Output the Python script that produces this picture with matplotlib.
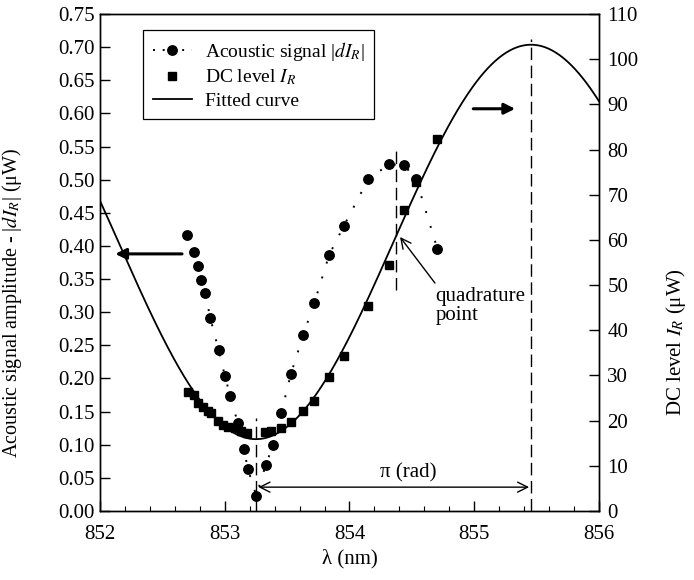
import numpy as np
import matplotlib
matplotlib.use("Agg")
import matplotlib.pyplot as plt
from matplotlib.lines import Line2D

plt.rcParams['font.family'] = ['Liberation Serif', 'DejaVu Serif']
plt.rcParams['mathtext.fontset'] = 'stix'
plt.rcParams['font.size'] = 15

# ---- data: acoustic signal |dI_R| (left axis, uW) ----
ac_wl = [852.697, 852.756, 852.783, 852.807, 852.844, 852.884, 852.951, 853.002,
         853.045, 853.104, 853.152, 853.186, 853.253, 853.328, 853.387, 853.453,
         853.529, 853.630, 853.718, 853.838, 853.954, 854.151, 854.317, 854.437,
         854.533, 854.704]
ac_val = [0.417, 0.391, 0.369, 0.348, 0.329, 0.291, 0.243, 0.203,
          0.173, 0.133, 0.094, 0.063, 0.023, 0.069, 0.099, 0.148,
          0.206, 0.266, 0.314, 0.387, 0.430, 0.501, 0.523, 0.522,
          0.501, 0.396]

# ---- data: DC level I_R (right axis, uW) ----
dc_wl = [852.705, 852.754, 852.786, 852.826, 852.866, 852.890, 852.946, 852.986,
         853.026, 853.082, 853.130, 853.178, 853.323, 853.371, 853.451, 853.531,
         853.627, 853.715, 853.836, 853.956, 854.148, 854.317, 854.437, 854.533,
         854.701]
dc_val = [26.3, 25.7, 23.9, 23.0, 22.1, 21.7, 19.9, 19.0,
          18.6, 18.4, 17.7, 17.3, 17.5, 17.7, 18.4, 19.7,
          22.1, 24.3, 29.7, 34.3, 45.4, 54.4, 66.6, 72.8,
          82.3]

# ---- fitted cosine curve parameters (right axis) ----
fit_min_wl = 853.25
fit_half_period = 2.205
fit_min = 15.9
fit_max = 103.2

x_ticks = [852, 853, 854, 855, 856]
left_ticks = [round(0.05 * i, 2) for i in range(16)]
right_ticks = list(range(0, 111, 10))

fig = plt.figure(figsize=(6.94, 5.80), dpi=100)
ax = fig.add_axes([100/694, 1-511/580, 499/694, 497/580])
ax2 = ax.twinx()

# fitted curve
xf = np.linspace(852, 856, 400)
mid = (fit_max + fit_min) / 2
amp = (fit_max - fit_min) / 2
yf = mid - amp * np.cos(np.pi * (xf - fit_min_wl) / fit_half_period)
ax2.plot(xf, yf, color='k', lw=1.3, zorder=2)

# DC squares
ax2.plot(dc_wl, dc_val, ls='none', marker='s', ms=5.6, color='k', zorder=3)

# acoustic circles with dotted line
ax.plot(ac_wl, ac_val, ls=(0, (1, 7)), lw=1.4, color='k', marker='o', ms=6.8, zorder=3)

ax.set_xlim(852, 856)
ax.set_ylim(0, 0.75)
ax2.set_ylim(0, 110)
ax.set_xticks(x_ticks)
ax.set_xticks(np.arange(852, 856.01, 0.2), minor=True)
ax.set_yticks(left_ticks)
ax.set_yticklabels([f"{v:.2f}" for v in left_ticks])
ax2.set_yticks(right_ticks)

ax.tick_params(axis='x', which='major', direction='in', length=7, width=1, pad=10)
ax.tick_params(axis='x', which='minor', direction='in', length=3.5, width=0.8)
ax.tick_params(axis='y', which='major', direction='in', length=7, width=1, pad=4)
ax2.tick_params(axis='y', which='major', direction='in', length=7, width=1, pad=6)
for a in (ax, ax2):
    for s in a.spines.values():
        s.set_linewidth(1.0)

ax.set_xlabel(r"λ (nm)", labelpad=4)
ax.set_ylabel(r"Acoustic signal amplitude - |$dI_R$| (μW)", fontsize=14.5)
ax.yaxis.set_label_coords(-0.153, 0.42)
ax2.set_ylabel(r"DC level $I_R$ (μW)")
ax2.yaxis.set_label_coords(1.13, 0.34)

# dashed vertical lines
dash = (0, (9, 4))
ax.plot([853.25, 853.25], [0.0, 0.14], color='k', ls=dash, lw=1)
ax.plot([854.373, 854.373], [0.333, 0.548], color='k', ls=dash, lw=1)
ax.plot([855.455, 855.455], [0.0, 0.712], color='k', ls=dash, lw=1)

# thick direction arrows
ax.annotate("", xy=(852.1, 0.388), xytext=(852.68, 0.388),
            arrowprops=dict(arrowstyle='-|>', lw=2.2, color='k', mutation_scale=16))
ax.annotate("", xy=(855.35, 0.607), xytext=(854.97, 0.607),
            arrowprops=dict(arrowstyle='-|>', lw=2.2, color='k', mutation_scale=16))

# pi arrow
ax.annotate("", xy=(853.27, 0.036), xytext=(855.44, 0.036),
            arrowprops=dict(arrowstyle='<->', lw=1, color='k', mutation_scale=18,
                            shrinkA=0, shrinkB=0))
ax.text(854.47, 0.057, "π (rad)", ha='center', va='center')

# quadrature point annotation
ax.annotate("", xy=(854.405, 0.4135), xytext=(854.685, 0.344),
            arrowprops=dict(arrowstyle='->', lw=1, color='k', mutation_scale=18,
                            shrinkA=0, shrinkB=0))
ax.text(854.69, 0.309, "quadrature\npoint", ha='left', va='center', linespacing=1.0)

handles = [Line2D([], [], color='k', ls=(0, (1, 4)), lw=1.4, marker='o', ms=6.8),
           Line2D([], [], color='k', ls='none', marker='s', ms=5.6),
           Line2D([], [], color='k', lw=1.3)]
labels = [r"Acoustic signal |$dI_R$|", r"DC level $I_R$", "Fitted curve"]
leg = ax.legend(handles, labels, loc='upper left', bbox_to_anchor=(0.086, 0.968),
                frameon=True, fancybox=False, edgecolor='k', framealpha=1,
                handlelength=2.0, numpoints=1, borderpad=0.5, labelspacing=0.25,
                handletextpad=0.7, borderaxespad=0, fontsize=14)
leg.get_frame().set_linewidth(0.9)

fig.savefig("out.png", dpi=100)
